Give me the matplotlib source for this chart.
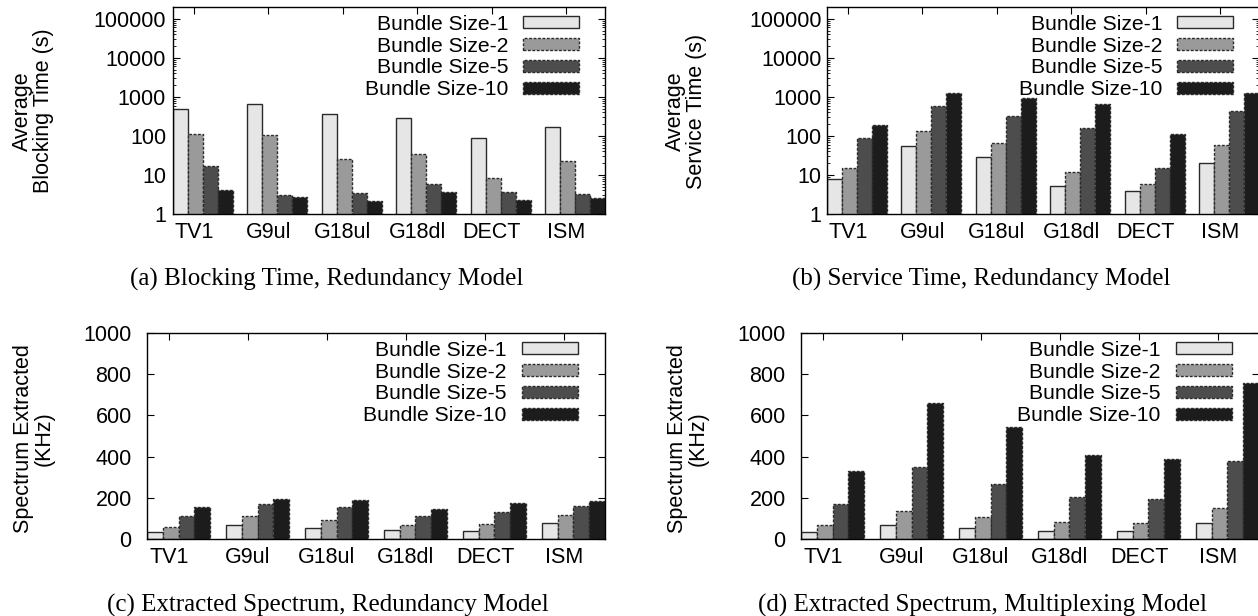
import matplotlib
matplotlib.use('Agg')
import matplotlib.pyplot as plt
import numpy as np

plt.rcParams['font.family'] = ['Liberation Sans', 'DejaVu Sans']

# ---------------------------------------------------------------------------
# Данные
# ---------------------------------------------------------------------------
channels = ['TV1', 'G9ul', 'G18ul', 'G18dl', 'DECT', 'ISM']
bundles = ['Bundle Size-1', 'Bundle Size-2', 'Bundle Size-5', 'Bundle Size-10']

# (a) Average blocking time, redundancy model (s)
block_b1 = [500, 650, 370, 282, 91, 173]
block_b2 = [110, 108, 26, 34.6, 8.4, 22.9]
block_b5 = [17.3, 3.1, 3.45, 6.0, 3.6, 3.3]
block_b10 = [4.0, 2.7, 2.2, 3.7, 2.3, 2.5]

# (b) Average service time, redundancy model (s)
serv_b1 = [7.9, 55, 29, 5.1, 3.8, 20.3]
serv_b2 = [15.1, 137, 66, 11.7, 5.9, 59]
serv_b5 = [90, 575, 330, 163, 15.1, 446]
serv_b10 = [187, 1260, 910, 660, 110, 1260]

# (c) Extracted spectrum, redundancy model (KHz)
red_b1 = [34, 68, 53, 42, 40, 78]
red_b2 = [60, 112, 94, 68, 71, 116]
red_b5 = [112, 171, 155, 112, 131, 162]
red_b10 = [153, 196, 187, 147, 175, 186]

# (d) Extracted spectrum, multiplexing model (KHz)
mux_b1 = [34, 68, 51, 40, 39, 76]
mux_b2 = [68, 137, 105, 82, 78, 152]
mux_b5 = [168, 348, 265, 202, 196, 377]
mux_b10 = [332, 660, 545, 408, 390, 759]

log_ticks = [1, 10, 100, 1000, 10000, 100000]
lin_ticks = [0, 200, 400, 600, 800, 1000]

fills = ['#e6e6e6', '#9a9a9a', '#4d4d4d', '#1c1c1c']
edge_styles = ['-', (0, (2, 1.2)), (0, (2, 1.2)), (0, (2, 1.2))]

FS = 15.5
LEG_FS = 15.2


# ---------------------------------------------------------------------------
# Одна гистограмма
# ---------------------------------------------------------------------------
def histogram(ax, series, log, label_pad):
    x = np.arange(len(channels))
    w = 0.2
    for j, vals in enumerate(series):
        ax.bar(x - 0.28 + w * j, vals, width=w, align='edge',
               color=fills[j], edgecolor='#2a2a2a', linewidth=1.0,
               linestyle=edge_styles[j], label=bundles[j])

    ax.set_xlim(-0.28, 5.52)
    ax.set_xticks(x)
    ax.set_xticklabels(channels, fontsize=FS)

    if log:
        ax.set_yscale('log')
        ax.set_ylim(1, 2.0e5)
        ax.set_yticks(log_ticks)
        ax.set_yticklabels([str(v) for v in log_ticks], fontsize=FS)
    else:
        ax.set_ylim(0, 1000)
        ax.set_yticks(lin_ticks)
        ax.set_yticklabels([str(v) for v in lin_ticks], fontsize=FS)

    ax.set_axisbelow(True)
    ax.tick_params(axis='x', which='both', direction='in', bottom=False,
                   top=True, length=5, width=0.8, pad=6)
    ax.tick_params(axis='y', which='major', direction='in', left=True,
                   right=True, length=5, width=0.8, pad=label_pad)
    ax.tick_params(axis='y', which='minor', direction='in', left=True,
                   right=True, length=2.5, width=0.6)
    for s in ax.spines.values():
        s.set_linewidth(1.0)
        s.set_color('black')

    ax.legend(loc='upper right', bbox_to_anchor=(0.94, 0.962), frameon=False,
              markerfirst=False, fontsize=LEG_FS, handlelength=2.65,
              handleheight=0.5, handletextpad=0.7, labelspacing=0.13,
              borderpad=0, borderaxespad=0)


fig = plt.figure(figsize=(12.58, 6.16), dpi=100)
W, H = 1258.0, 616.0

ax_a = fig.add_axes([173 / W, (H - 214) / H, 432 / W, 207 / H])
ax_b = fig.add_axes([827 / W, (H - 214) / H, 432 / W, 207 / H])
ax_c = fig.add_axes([147 / W, (H - 539) / H, 458 / W, 206 / H])
ax_d = fig.add_axes([801 / W, (H - 539) / H, 458 / W, 206 / H])

histogram(ax_a, [block_b1, block_b2, block_b5, block_b10], True, 5)
histogram(ax_b, [serv_b1, serv_b2, serv_b5, serv_b10], True, 4)
histogram(ax_c, [red_b1, red_b2, red_b5, red_b10], False, 11)
histogram(ax_d, [mux_b1, mux_b2, mux_b5, mux_b10], False, 11)

# подписи осей Y
ylab = dict(rotation=90, ha='center', va='center', multialignment='center',
            fontsize=FS, linespacing=1.0)
fig.text(33 / W, (H - 111) / H, 'Average\nBlocking Time (s)', **ylab)
fig.text(686 / W, (H - 111) / H, 'Average\nService Time (s)', **ylab)
fig.text(34 / W, (H - 439) / H, 'Spectrum Extracted\n(KHz)', **ylab)
fig.text(688 / W, (H - 439) / H, 'Spectrum Extracted\n(KHz)', **ylab)

# подписи под графиками
cap = dict(fontsize=18, family=['Liberation Serif', 'DejaVu Serif'],
           ha='left', va='center')
fig.text(130 / W, (H - 279) / H, '(a) Blocking Time, Redundancy Model', **cap)
fig.text(792 / W, (H - 279) / H, '(b) Service Time, Redundancy Model', **cap)
fig.text(107 / W, (H - 605) / H, '(c) Extracted Spectrum, Redundancy Model', **cap)
fig.text(758 / W, (H - 605) / H, '(d) Extracted Spectrum, Multiplexing Model', **cap)

fig.savefig('out.png', dpi=100)
